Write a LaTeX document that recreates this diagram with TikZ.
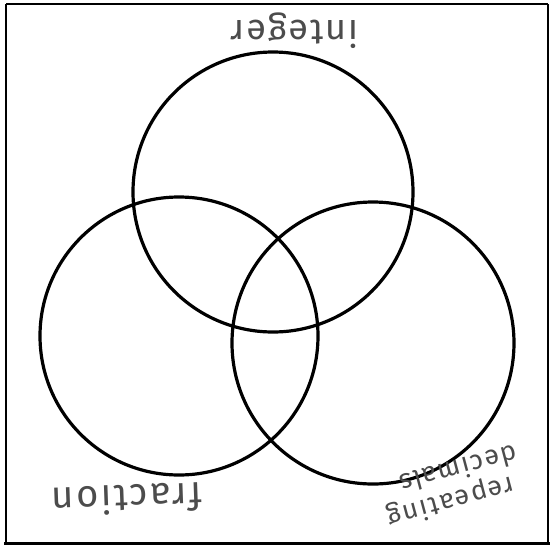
\documentclass[tikz,border=0pt]{standalone}
\usepackage{fontspec}
\setmainfont{Fira Sans}
\newfontfamily\handfont[LetterSpace=6]{Fira Sans}
\begin{document}
\begin{tikzpicture}[x=1pt,y=-1pt,
  venn/.style={draw=black,line width=3.2pt,circle,minimum size=#1,inner sep=0pt},
  hand/.style={text=black!70,align=center,inner sep=1pt}]
\useasboundingbox (0,0) rectangle (550,550);
\fill[white] (0,0) rectangle (550,550);
\draw[line width=1.3pt] (6,4) -- (548,4);
\draw[line width=1.3pt] (6,4) -- (6,543);
\draw[line width=1.3pt] (548,4) -- (548,543);
\draw[line width=3pt] (4,543) -- (550,543);
\node[venn=280pt] (integer) at (273,192) {};
\node[venn=278pt] (fraction) at (179,336) {};
\node[venn=282pt] (repeating) at (373,343) {};
\node[hand,rotate=180,font=\handfont\fontsize{36}{36}\selectfont] (lint) at (295,31) {integer};
\node[hand,rotate=182,font=\handfont\fontsize{38}{38}\selectfont] (lfrac) at (127,500) {fraction};
\node[hand,rotate=195,font=\handfont\fontsize{27}{32}\selectfont] (lrep1) at (451,501) {repeating};
\node[hand,rotate=195,font=\handfont\fontsize{27}{32}\selectfont] (lrep2) at (459,470) {decimals};
\end{tikzpicture}
\end{document}
